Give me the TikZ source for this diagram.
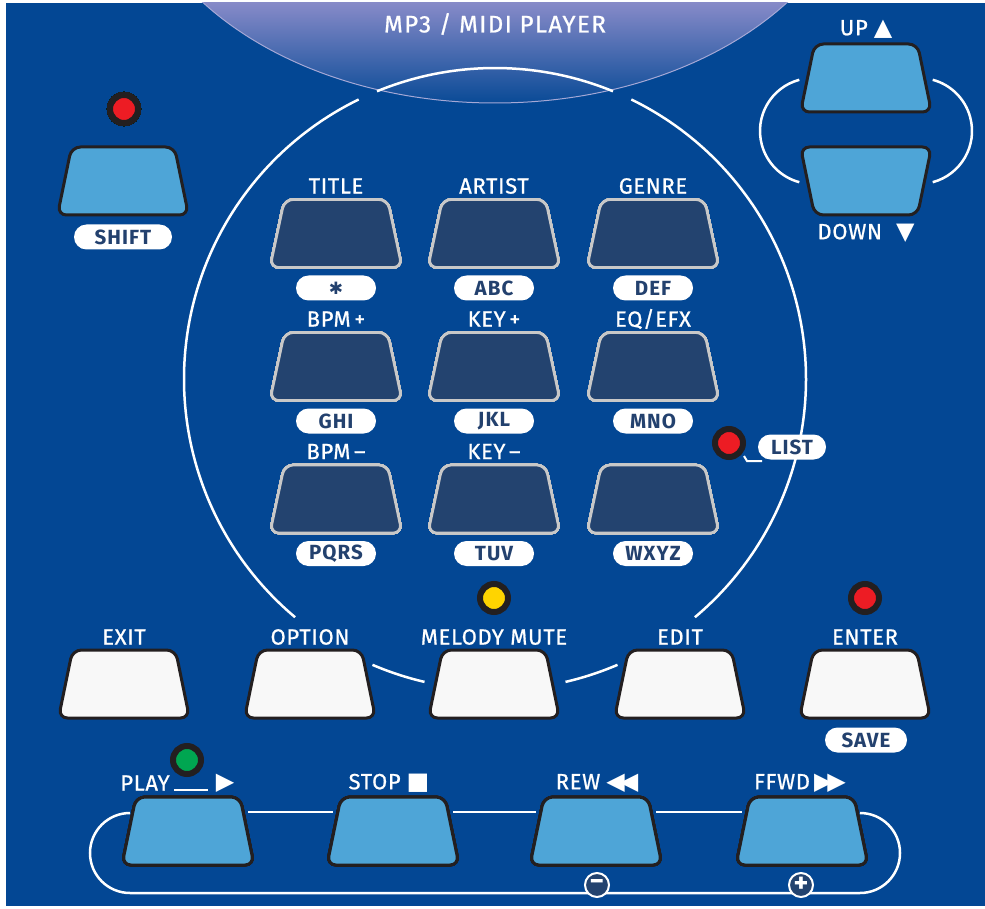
\documentclass[tikz,border=0pt]{standalone}
\usepackage{fontspec}
\setmainfont{Fira Sans}
\newfontfamily\symfont{DejaVu Sans}
\newfontfamily\lblfont{Fira Sans}[LetterSpace=3,FakeBold=0.8]
\newfontfamily\titlefont{Fira Sans}[LetterSpace=6,FakeBold=0.8]
\newfontfamily\pillfont{Fira Sans}[LetterSpace=5]
\usepackage{tikz}
\usetikzlibrary{calc}

\definecolor{panel}{RGB}{3,71,148}
\definecolor{titletop}{RGB}{134,138,200}
\definecolor{titleedge}{RGB}{165,168,214}
\definecolor{keylight}{RGB}{78,165,215}
\definecolor{keynavy}{RGB}{35,67,111}
\definecolor{keywhite}{RGB}{248,248,248}
\definecolor{rim}{RGB}{35,31,32}
\definecolor{padrim}{RGB}{200,200,200}
\definecolor{pilltext}{RGB}{35,65,110}
\definecolor{ledred}{RGB}{237,28,36}
\definecolor{ledyellow}{RGB}{255,212,0}
\definecolor{ledgreen}{RGB}{0,166,81}

% key body: style, centre, half width on top, half width at the bottom
\newcommand{\padkey}[4]{\draw[#1] ($(#2)+(-#3,-34)$) -- ($(#2)+(#3,-34)$) -- ($(#2)+(#4,34)$) -- ($(#2)+(-#4,34)$) -- cycle;}
\newcommand{\padstar}{{\symfont\fontsize{17}{17}\selectfont ✱}}
\newcommand{\tri}[1]{{\symfont\fontsize{24}{24}\selectfont #1}}

\begin{document}
\begin{tikzpicture}[x=1pt,y=-1pt,
	wire/.style={draw=white, line width=2.5pt},
	bluekey/.style={fill=keylight, draw=rim, line width=3pt, rounded corners=9pt},
	whitekey/.style={fill=keywhite, draw=rim, line width=3pt, rounded corners=9pt},
	navykey/.style={fill=keynavy, draw=padrim, line width=2.6pt, rounded corners=9pt},
	lbl/.style={text=white, inner sep=0pt, font=\lblfont\mdseries\fontsize{22}{22}\selectfont},
	pill/.style={fill=white, rounded corners=12.5pt, minimum width=80, minimum height=25, inner sep=0pt, text=pilltext, font=\pillfont\bfseries\fontsize{20.5}{20.5}\selectfont},
	led/.style={circle, draw=rim, line width=6pt, minimum size=28, inner sep=0pt},
	sign/.style={circle, fill=keynavy, draw=white, line width=2pt, minimum size=24, inner sep=0pt, text=white, font=\bfseries\fontsize{28}{28}\selectfont}]
				\useasboundingbox (0,0) rectangle (985,909);
				\fill[white] (0,0) rectangle (985,909);
				\fill[panel] (6,3) rectangle (985,906);
				% title band
				\begin{scope}
					\clip (6,3) rectangle (985,906);
					\clip (495,-150) ellipse [x radius=366, y radius=253];
					\shade[top color=titletop, bottom color=panel] (6,3) rectangle (985,108);
				\end{scope}
				\begin{scope}
					\clip (6,3) rectangle (985,906);
					\draw[titleedge, line width=1pt] (495,-150) ellipse [x radius=366, y radius=253];
				\end{scope}
				\coordinate (ring) at (495,379);
				\coordinate (shift) at (123,181);
				\coordinate (up) at (866,78);
				\coordinate (down) at (866,181);
				\coordinate (exit) at (124,684);
				\coordinate (option) at (310,684);
				\coordinate (mute) at (494,684);
				\coordinate (edit) at (680,684);
				\coordinate (enter) at (865,684);
				\coordinate (play) at (188,831);
				\coordinate (stop) at (393,831);
				\coordinate (rew) at (596,831);
				\coordinate (ffwd) at (802,831);
				\coordinate (title) at (336,233.5);
				\coordinate (artist) at (494,233.5);
				\coordinate (genre) at (653,233.5);
				\coordinate (bpmup) at (336,366.5);
				\coordinate (keyup) at (494,366.5);
				\coordinate (eqefx) at (653,366.5);
				\coordinate (bpmdn) at (336,499);
				\coordinate (keydn) at (494,499);
				\coordinate (blank) at (653,499);
				% ring round the keypad
				\foreach \a/\b in {-112.3/-67.7, -230/-116, -256.9/-246.8, 66.8/76.9, -64/50}
					\draw[wire] (ring) ++(\a:311) arc[start angle=\a, end angle=\b, radius=311];
				% up / down brackets
				\draw[wire] (813,131) ++(-105:53) arc[start angle=-105, end angle=-255, radius=53];
				\draw[wire] (919,131) ++(75:53) arc[start angle=75, end angle=-75, radius=53];
				% transport loop
				\draw[wire] (130,813) arc[start angle=270, end angle=90, radius=40] -- (860,893) arc[start angle=90, end angle=-90, radius=40];
				\draw[wire] ($(play)+(60,-19)$) -- ($(stop)+(-60,-19)$);
				\draw[wire] ($(stop)+(60,-19)$) -- ($(rew)+(-60,-19)$);
				\draw[wire] ($(rew)+(60,-19)$) -- ($(ffwd)+(-60,-19)$);
				\draw[wire] (174,790) -- (208,790);
				\draw[wire, line width=2pt] (744,456) -- (747,461) -- (762,461);
				% keys
				\padkey{bluekey}{shift}{51.5}{65.5}
				\padkey{bluekey}{up}{51.5}{65.5}
				\padkey{bluekey}{down}{65.5}{51.5}
				\foreach \k in {exit,option,mute,edit,enter}
					\padkey{whitekey}{\k}{51.5}{65.5}
				\foreach \k in {play,stop,rew,ffwd}
					\padkey{bluekey}{\k}{52}{66}
				\foreach \k in {title,artist,genre,bpmup,keyup,eqefx,bpmdn,keydn,blank}
					\padkey{navykey}{\k}{51.5}{66}
				% lamps
				\node[led, fill=ledred] (shiftled) at (124,109) {};
				\node[led, fill=ledred] (listled) at (729,443) {};
				\node[led, fill=ledyellow] (muteled) at (494,598) {};
				\node[led, fill=ledred] (enterled) at (865,598) {};
				\node[led, fill=ledgreen] (playled) at (187,760) {};
				% texts
				\node[lbl, font=\titlefont\fontsize{24}{24}\selectfont] (titlebar) at (495,24) {MP3 / MIDI PLAYER};
				\node[lbl] (uplbl) at (866,29) {UP\hspace{6pt}\tri{▲}};
				\node[lbl] (downlbl) at (866,233) {DOWN\hspace{14pt}\tri{▼}};
				\node[pill, minimum width=98] (shiftpill) at (123,237) {SHIFT};
				\node[lbl] (titlelbl) at ($(title)+(0,-47.5)$) {TITLE};
				\node[lbl] (artistlbl) at ($(artist)+(0,-47.5)$) {ARTIST};
				\node[lbl] (genrelbl) at ($(genre)+(0,-47.5)$) {GENRE};
				\node[lbl] (bpmuplbl) at ($(bpmup)+(0,-47.5)$) {BPM\,+};
				\node[lbl] (keyuplbl) at ($(keyup)+(0,-47.5)$) {KEY\,+};
				\node[lbl] (eqefxlbl) at ($(eqefx)+(0,-47.5)$) {EQ/EFX};
				\node[lbl] (bpmdnlbl) at ($(bpmdn)+(0,-47.5)$) {BPM\,–};
				\node[lbl] (keydnlbl) at ($(keydn)+(0,-47.5)$) {KEY\,–};
				\node[pill] (titlepill) at ($(title)+(0,54.5)$) {\padstar};
				\node[pill] (artistpill) at ($(artist)+(0,54.5)$) {ABC};
				\node[pill] (genrepill) at ($(genre)+(0,54.5)$) {DEF};
				\node[pill] (bpmuppill) at ($(bpmup)+(0,54.5)$) {GHI};
				\node[pill] (keyuppill) at ($(keyup)+(0,54.5)$) {JKL};
				\node[pill] (eqefxpill) at ($(eqefx)+(0,54.5)$) {MNO};
				\node[pill] (bpmdnpill) at ($(bpmdn)+(0,54.5)$) {PQRS};
				\node[pill] (keydnpill) at ($(keydn)+(0,54.5)$) {TUV};
				\node[pill] (blankpill) at ($(blank)+(0,54.5)$) {WXYZ};
				\node[pill, minimum width=68] (listpill) at (792,447) {LIST};
				\node[pill, minimum width=82] (savepill) at (866,740) {SAVE};
				\node[lbl] (exitlbl) at (124,637) {EXIT};
				\node[lbl] (optionlbl) at (310,637) {OPTION};
				\node[lbl] (mutelbl) at (494,637) {MELODY MUTE};
				\node[lbl] (editlbl) at (680,637) {EDIT};
				\node[lbl] (enterlbl) at (865,637) {ENTER};
				\node[lbl] (playlbl) at (145,783) {PLAY};
				\node[lbl] (playsym) at (225,783) {\tri{▶}};
				\node[lbl] (stoplbl) at (389,783) {STOP\hspace{6pt}\tri{■}};
				\node[lbl] (rewlbl) at (597,783) {REW\hspace{6pt}\tri{◀\kern-5pt◀}};
				\node[lbl] (ffwdlbl) at (800,783) {FFWD\hspace{4pt}\tri{▶\kern-5pt▶}};
				\node[sign] (minus) at (597,885) {−};
				\node[sign] (plus) at (801,885) {+};
			\end{tikzpicture}
\end{document}
